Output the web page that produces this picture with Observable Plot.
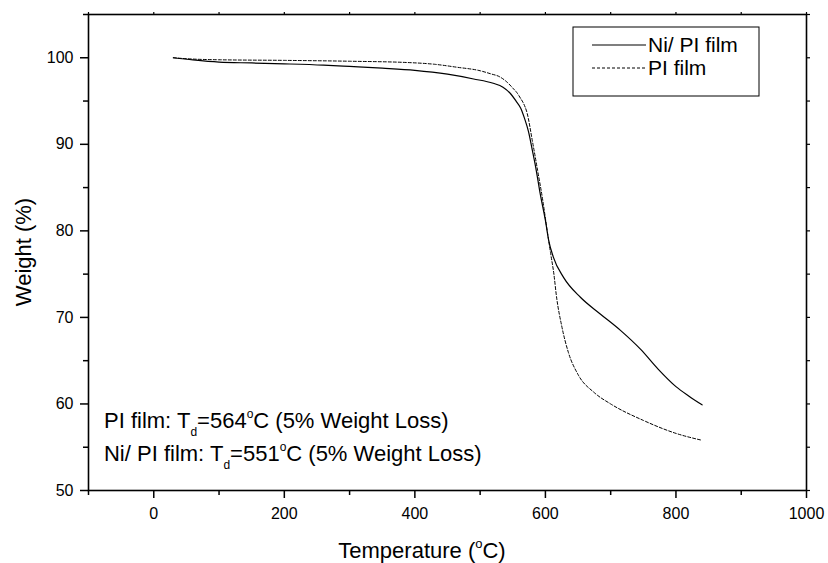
<!DOCTYPE html>
<html>
<head>
<meta charset="utf-8">
<script src="https://cdn.jsdelivr.net/npm/d3@7"></script>
<script src="https://cdn.jsdelivr.net/npm/@observablehq/plot@0.6"></script>
<style>
  html, body { margin: 0; padding: 0; background: white; }
  #chart { width: 828px; height: 563px; }
</style>
</head>
<body>
<div id="chart"></div>
<script>
// ---- Data ----
const seriesNames = ["Ni/ PI film", "PI film"];

const niTemp = [30, 60, 100, 150, 200, 260, 300, 350, 400, 450, 490, 520, 535, 546, 555, 562, 568, 574, 580, 585, 592, 600, 605, 612, 628, 654, 684, 715, 746, 773, 800, 820, 840];
const niWeight = [100, 99.75, 99.5, 99.4, 99.3, 99.15, 99.0, 98.8, 98.55, 98.1, 97.55, 97.05, 96.6, 95.9, 95.0, 94.2, 93.0, 91.5, 89.3, 87.4, 84.3, 81.2, 78.9, 77.0, 74.6, 72.3, 70.4, 68.5, 66.3, 64.0, 62.0, 60.9, 59.9];

const piTemp = [30, 60, 100, 200, 300, 389, 430, 465, 500, 516, 530, 541, 550, 557, 562, 566, 572, 580, 588, 596, 602, 608, 613, 617, 625, 635, 650, 675, 700, 750, 800, 840];
const piWeight = [100, 99.85, 99.77, 99.7, 99.6, 99.45, 99.25, 98.9, 98.5, 98.15, 97.8, 97.2, 96.5, 95.9, 95.3, 94.8, 93.6, 90.4, 87.0, 83.5, 80.4, 77.4, 75.0, 72.4, 69.0, 66.0, 63.4, 61.3, 60.0, 58.1, 56.6, 55.8];

const xMajorTicks = [0, 200, 400, 600, 800, 1000];
const xMinorTicks = [-100, 100, 300, 500, 700, 900];
const yMajorTicks = [50, 60, 70, 80, 90, 100];
const yMinorTicks = [55, 65, 75, 85, 95, 105];

const xTitle = ["Temperature (", "o", "C)"];
const yTitle = "Weight (%)";
const annotations = [
  {temp: -75.5, weight: 57.17, parts: [["PI film: T", ""], ["d", "sub"], ["=564", ""], ["o", "sup"], ["C (5% Weight Loss)", ""]]},
  {temp: -75.5, weight: 53.35, parts: [["Ni/ PI film: T", ""], ["d", "sub"], ["=551", ""], ["o", "sup"], ["C (5% Weight Loss)", ""]]}
];

// ---- Build table ----
const niData = niTemp.map((t, i) => ({t, w: niWeight[i]}));
const piData = piTemp.map((t, i) => ({t, w: piWeight[i]}));

const FONT = "'Liberation Sans', Arial, Helvetica, sans-serif";

const plot = Plot.plot({
  width: 828,
  height: 563,
  marginLeft: 88,
  marginRight: 22,
  marginTop: 14,
  marginBottom: 73,
  style: {fontFamily: FONT, fontSize: "16px", color: "black", background: "white", overflow: "visible"},
  x: {domain: [-100, 1000], label: null},
  y: {domain: [50, 105], label: null},
  marks: [
    Plot.line(niData, {x: "t", y: "w", stroke: "black", strokeWidth: 1.2, curve: "monotone-x"}),
    Plot.line(piData, {x: "t", y: "w", stroke: "black", strokeWidth: 1, strokeDasharray: "3,2", curve: "monotone-x"}),
    Plot.axisX({ticks: xMajorTicks, tickSize: 8, tickPadding: 9, label: null, fontSize: 16, stroke: "black", strokeWidth: 1.5, tickFormat: d => String(d)}),
    Plot.axisX({ticks: xMinorTicks, tickSize: 5, label: null, stroke: "black", strokeWidth: 1.5, tickFormat: () => ""}),
    Plot.axisX({anchor: "top", ticks: xMajorTicks.concat(xMinorTicks), tickSize: 3, label: null, stroke: "black", strokeWidth: 1.2, tickFormat: () => ""}),
    Plot.axisY({ticks: yMajorTicks, tickSize: 8, tickPadding: 7, label: null, fontSize: 16, stroke: "black", strokeWidth: 1.5, tickFormat: d => String(d)}),
    Plot.axisY({ticks: yMinorTicks, tickSize: 5, label: null, stroke: "black", strokeWidth: 1.5, tickFormat: () => ""}),
    Plot.axisY({anchor: "right", ticks: yMajorTicks.concat(yMinorTicks), tickSize: 3, label: null, stroke: "black", strokeWidth: 1.2, tickFormat: () => ""}),
    Plot.frame({stroke: "black", strokeWidth: 1.6})
  ]
});

document.getElementById("chart").appendChild(plot);

const svg = d3.select(plot);
const sx = plot.scale("x");
const sy = plot.scale("y");

// Annotations with sub/superscripts
function richText(g, x, y, parts, size) {
  const t = g.append("text")
    .attr("x", x).attr("y", y)
    .attr("text-anchor", "start")
    .attr("font-family", FONT).attr("font-size", size).attr("fill", "black");
  let shift = 0;
  for (const [str, kind] of parts) {
    const target = kind === "sub" ? 8 : kind === "sup" ? -10 : 0;
    t.append("tspan")
      .attr("dy", target - shift)
      .attr("font-size", kind ? Math.round(size * 0.55) : size)
      .text(str);
    shift = target;
  }
  return t;
}

const ann = svg.append("g").attr("text-anchor", "start");
for (const a of annotations) {
  richText(ann, sx.apply(a.temp), sy.apply(a.weight), a.parts, 22);
}

// Axis titles
const xMid = 422;
const xt = svg.append("text")
  .attr("x", xMid).attr("y", 558)
  .attr("text-anchor", "middle")
  .attr("font-family", FONT).attr("font-size", 22).attr("fill", "black");
xt.append("tspan").text(xTitle[0]);
xt.append("tspan").attr("dy", -10).attr("font-size", 13).text(xTitle[1]);
xt.append("tspan").attr("dy", 10).text(xTitle[2]);

svg.append("text")
  .attr("transform", "translate(31,252) rotate(-90)")
  .attr("text-anchor", "middle")
  .attr("font-family", FONT).attr("font-size", 22).attr("fill", "black")
  .text(yTitle);

// Legend
const lg = svg.append("g").attr("text-anchor", "start");
lg.append("rect").attr("x", 573).attr("y", 27).attr("width", 186).attr("height", 69)
  .attr("fill", "white").attr("stroke", "black").attr("stroke-width", 1);
const styles = [{dash: null, w: 1.2}, {dash: "3,2", w: 1}];
seriesNames.forEach((name, i) => {
  const y = 45 + i * 23;
  lg.append("line").attr("x1", 592).attr("x2", 646).attr("y1", y).attr("y2", y)
    .attr("stroke", "black").attr("stroke-width", styles[i].w)
    .attr("stroke-dasharray", styles[i].dash);
  lg.append("text").attr("x", 648).attr("y", y + 7)
    .attr("text-anchor", "start")
    .attr("font-family", FONT).attr("font-size", 21).attr("fill", "black")
    .text(name);
});
</script>
</body>
</html>
